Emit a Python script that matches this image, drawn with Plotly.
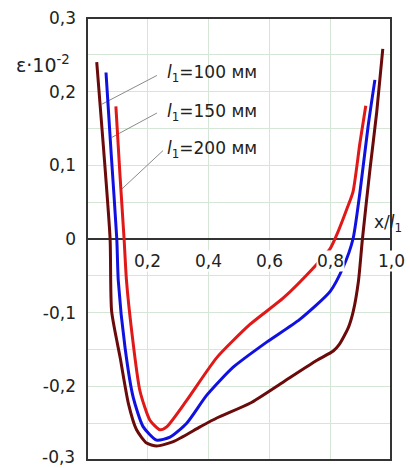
import plotly.graph_objects as go

# ---- data ----
x_200 = [0.032, 0.055, 0.076, 0.081, 0.109, 0.136, 0.163, 0.196, 0.229, 0.284, 0.372, 0.427,
         0.536, 0.646, 0.755, 0.81, 0.83, 0.86, 0.876, 0.893, 0.906, 0.931, 0.953, 0.973]
y_200 = [0.240, 0.120, 0.0, -0.098, -0.161, -0.223, -0.259, -0.277, -0.281, -0.275, -0.255, -0.243,
         -0.223, -0.194, -0.165, -0.152, -0.143, -0.120, -0.098, -0.057, 0.0, 0.095, 0.172, 0.258]

x_150 = [0.0625, 0.080, 0.098, 0.103, 0.125, 0.152, 0.185, 0.229, 0.273, 0.328, 0.394, 0.481,
         0.591, 0.70, 0.80, 0.843, 0.875, 0.898, 0.925, 0.947]
y_150 = [0.226, 0.113, 0.0, -0.057, -0.147, -0.215, -0.255, -0.273, -0.269, -0.250, -0.212, -0.174,
         -0.140, -0.109, -0.071, -0.038, 0.0, 0.064, 0.154, 0.216]

x_100 = [0.095, 0.108, 0.122, 0.13, 0.147, 0.174, 0.207, 0.24, 0.262, 0.328, 0.427, 0.536,
         0.646, 0.743, 0.80, 0.826, 0.855, 0.875, 0.898, 0.917]
y_100 = [0.180, 0.090, 0.0, -0.057, -0.125, -0.206, -0.246, -0.259, -0.255, -0.219, -0.161, -0.116,
         -0.080, -0.040, -0.013, 0.010, 0.041, 0.064, 0.131, 0.181]

series_names = ["l1=200 мм", "l1=150 мм", "l1=100 мм"]
series_colors = ["#6a0a0a", "#1010e0", "#e01818"]

y_tickvals = [-0.3, -0.25, -0.2, -0.15, -0.1, -0.05, 0.0, 0.05, 0.1, 0.15, 0.2, 0.25, 0.3]
y_ticktext = ["", "", "-0,2", "", "-0,1", "", "0", "", "0,1", "", "0,2", "", "0,3"]
y_bottom_label = "-0,3"
x_tickvals = [0.2, 0.4, 0.6, 0.8, 1.0]
x_ticktext = ["0,2", "0,4", "0,6", "0,8", "1,0"]

label_texts = ["<i>l</i><sub>1</sub>=100 мм", "<i>l</i><sub>1</sub>=150 мм", "<i>l</i><sub>1</sub>=200 мм"]
label_x = [0.257, 0.257, 0.257]
label_y = [0.2245, 0.172, 0.122]
leader_x = [[0.230, 0.049], [0.230, 0.082], [0.250, 0.115]]
leader_y = [[0.222, 0.183], [0.171, 0.138], [0.120, 0.068]]

FONT = "DejaVu Sans"

fig = go.Figure()

for (lx, ly) in zip(leader_x, leader_y):
    fig.add_trace(go.Scatter(x=lx, y=ly, mode="lines",
                             line=dict(color="#8a8a8a", width=1), showlegend=False, hoverinfo="skip"))

for xs, ys, c in zip([x_200, x_150, x_100], [y_200, y_150, y_100], series_colors):
    fig.add_trace(go.Scatter(x=xs, y=ys, mode="lines",
                             line=dict(color=c, width=3, shape="spline", smoothing=0.6),
                             showlegend=False))

annotations = []
for v, t in zip(x_tickvals, x_ticktext):
    annotations.append(dict(x=v, y=0, xref="x", yref="y", text=t, showarrow=False,
                            yanchor="middle", xanchor="center", yshift=-22,
                            font=dict(family=FONT, size=17, color="#222"),
                            bgcolor="white", borderpad=0))
for t, lx, ly in zip(label_texts, label_x, label_y):
    annotations.append(dict(x=lx, y=ly, xref="x", yref="y", text=t, showarrow=False,
                            xanchor="left", yanchor="middle",
                            font=dict(family=FONT, size=17, color="#222")))
annotations.append(dict(x=0.99, y=0.021, xref="paper", yref="y", text="x/<i>l</i><sub>1</sub>",
                        showarrow=False, xanchor="center", yanchor="middle",
                        font=dict(family=FONT, size=17, color="#222")))
annotations.append(dict(x=-0.24, y=0.237, xref="paper", yref="y", text="ε·10<sup>-2</sup>",
                        showarrow=False, xanchor="left", yanchor="middle",
                        font=dict(family=FONT, size=19, color="#222")))
annotations.append(dict(x=0, y=-0.3, xref="paper", yref="y", text=y_bottom_label,
                        showarrow=False, xanchor="right", yanchor="middle", xshift=-10, yshift=3,
                        font=dict(family=FONT, size=17, color="#222")))

fig.update_layout(
    width=410, height=468,
    margin=dict(l=87, r=19, t=15, b=8),
    paper_bgcolor="white", plot_bgcolor="white",
    font=dict(family=FONT, size=17, color="#222"),
    xaxis=dict(range=[0, 1.0], tickvals=[0.2, 0.4, 0.6, 0.8], showticklabels=False,
               showgrid=True, gridcolor="#d6e6d6", gridwidth=1, zeroline=False,
               showline=False, ticks=""),
    yaxis=dict(range=[-0.3, 0.3], tickvals=y_tickvals, ticktext=y_ticktext,
               showgrid=True, gridcolor="#d6e6d6", gridwidth=1,
               zeroline=True, zerolinecolor="#333", zerolinewidth=2,
               showline=False, ticks="", ticklabelstandoff=10),
    annotations=annotations,
    shapes=[dict(type="rect", xref="paper", yref="paper", x0=0, x1=1, y0=0, y1=1,
                 line=dict(color="#333", width=2), layer="above")],
)

fig.write_html("out.html", config={"displayModeBar": False},
               post_script="document.body.style.margin='0';document.body.style.overflow='hidden';")
